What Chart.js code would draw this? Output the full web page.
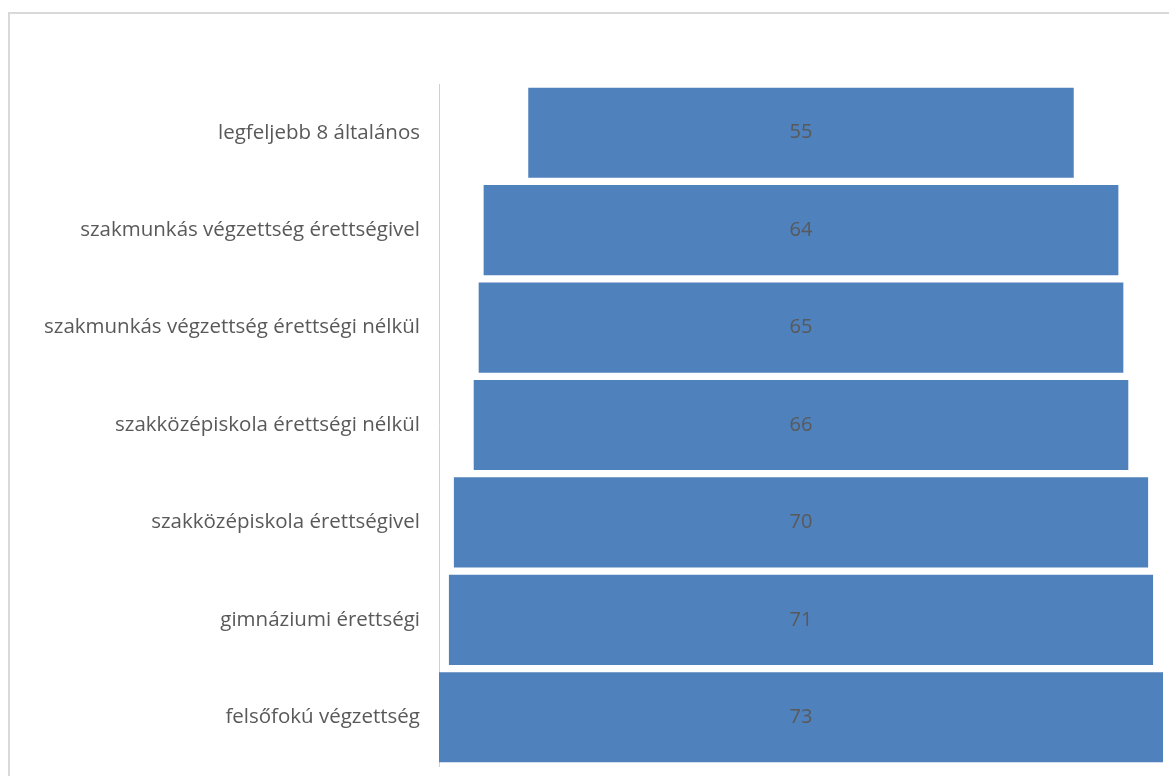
<!DOCTYPE html>
<html>
  <head>
    <script src="https://cdn.jsdelivr.net/npm/chart.js@4/dist/chart.umd.min.js"></script>
    <style>
      body { margin: 0; background: #fff; overflow: hidden; }
      #frame { position: absolute; left: 8px; top: 12px; width: 1300px; height: 900px;
               border-top: 2px solid #d9d9d9; border-left: 2px solid #d9d9d9; }
      #canvas { position: absolute; left: 0; top: 0; }
    </style>
  </head>
  <body>
    <div id="frame"></div>
    <canvas id="canvas" width="1169" height="776"></canvas>
    <script>
      const categories = [
        'legfeljebb 8 általános',
        'szakmunkás végzettség érettségivel',
        'szakmunkás végzettség érettségi nélkül',
        'szakközépiskola érettségi nélkül',
        'szakközépiskola érettségivel',
        'gimnáziumi érettségi',
        'felsőfokú végzettség',
      ];
      const values = [55, 64, 65, 66, 70, 71, 73];

      const maxValue = Math.max(...values);
      // funnel: each bar centred on the middle of the value axis
      const spans = values.map((v) => [(maxValue - v) / 2, (maxValue + v) / 2]);

      const centreLabels = {
        id: 'centreLabels',
        afterDatasetsDraw(chart) {
          const ctx = chart.ctx;
          const meta = chart.getDatasetMeta(0);
          ctx.save();
          ctx.font = '20px "Open Sans"';
          ctx.fillStyle = '#595959';
          ctx.textAlign = 'center';
          ctx.textBaseline = 'middle';
          meta.data.forEach((bar, i) => {
            const p = bar.getProps(['x', 'base', 'y'], true);
            ctx.fillText(String(values[i]), (p.x + p.base) / 2, p.y);
          });
          ctx.restore();
        },
      };

      new Chart(document.getElementById('canvas'), {
        type: 'bar',
        data: {
          labels: categories,
          datasets: [{
            data: spans,
            backgroundColor: '#4f81bd',
            borderWidth: 0,
            borderSkipped: false,
            barPercentage: 0.925,
            categoryPercentage: 1,
          }],
        },
        options: {
          indexAxis: 'y',
          responsive: false,
          animation: false,
          layout: { padding: { top: 84, right: 6, bottom: 10, left: 0 } },
          plugins: { legend: { display: false }, tooltip: { enabled: false } },
          scales: {
            x: { display: false, min: 0, max: maxValue },
            y: {
              afterFit: (s) => { s.width = 439; s.paddingTop = 0; s.paddingBottom = 0; },
              grid: { display: false, drawTicks: false },
              border: { display: true, color: '#d0d0d0', dash: [2, 2] },
              ticks: { color: '#595959', font: { family: 'Open Sans', size: 20.5 }, padding: 19 },
            },
          },
        },
        plugins: [centreLabels],
      });
    </script>
  </body>
</html>
